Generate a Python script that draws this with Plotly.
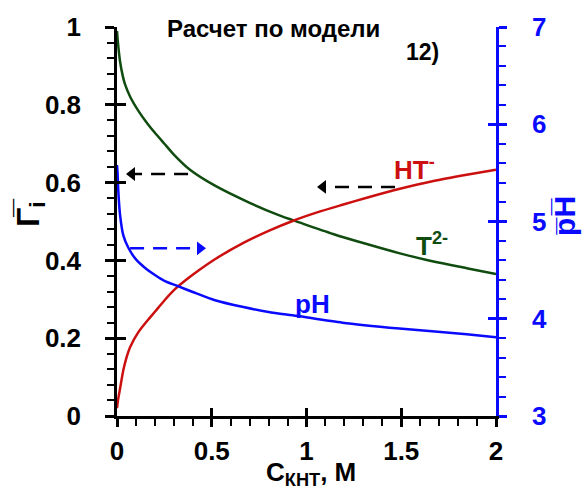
import plotly.graph_objects as go

# ---- data ----
c_T2 = [0.0, 0.005, 0.016, 0.03, 0.042, 0.07, 0.112, 0.16, 0.2, 0.25, 0.3, 0.385, 0.517, 0.7, 0.85,
        0.966, 1.14, 1.318, 1.493, 1.67, 1.845, 2.0]
gamma_T2 = [0.99, 0.96, 0.912, 0.875, 0.853, 0.82, 0.785, 0.752, 0.728, 0.70, 0.672, 0.633, 0.592, 0.548,
            0.517, 0.497, 0.468, 0.442, 0.418, 0.397, 0.38, 0.365]

c_HT = [0.0, 0.005, 0.016, 0.033, 0.05, 0.069, 0.112, 0.16, 0.2, 0.25, 0.306, 0.37, 0.43, 0.517, 0.667,
        0.8, 0.93, 1.06, 1.19, 1.318, 1.493, 1.67, 1.845, 2.0]
gamma_HT = [0.02, 0.04, 0.07, 0.117, 0.15, 0.177, 0.215, 0.245, 0.268, 0.297, 0.326, 0.352, 0.374, 0.403,
            0.445, 0.476, 0.502, 0.524, 0.543, 0.561, 0.584, 0.604, 0.62, 0.633]

c_pH = [0.0, 0.003, 0.007, 0.016, 0.033, 0.06, 0.1, 0.15, 0.2, 0.25, 0.315, 0.4, 0.517, 0.667, 0.8,
        0.948, 1.19, 1.49, 1.845, 2.0]
pH = [5.58, 5.5, 5.31, 5.07, 4.86, 4.73, 4.61, 4.52, 4.45, 4.39, 4.34, 4.275, 4.19, 4.12, 4.07,
      4.03, 3.96, 3.90, 3.84, 3.81]

# arrows: (x_start, x_tip, level)
arrow_left1 = (0.375, 0.079, 0.622)
arrow_left2 = (1.467, 1.087, 0.589)
arrow_right = (0.069, 0.438, 4.724)

x_ticks = [0, 0.5, 1, 1.5, 2]
x_ticklabels = ["0", "0.5", "1", "1.5", "2"]
y_ticks = [0, 0.2, 0.4, 0.6, 0.8, 1]
y_ticklabels = ["0", "0.2", "0.4", "0.6", "0.8", "1"]
y2_ticks = [3, 4, 5, 6, 7]

GREEN = "#104c10"
RED = "#cc1010"
BLUE = "#0a0aff"
FONT = "Liberation Sans"

fig = go.Figure()

for xs, ys, col, ya in [(c_T2, gamma_T2, GREEN, "y"), (c_HT, gamma_HT, RED, "y"), (c_pH, pH, BLUE, "y2")]:
    fig.add_trace(go.Scatter(x=xs, y=ys, mode="lines", line=dict(color=col, width=2.5, shape="spline",
                                                                   smoothing=0.7),
                             showlegend=False, xaxis="x", yaxis=ya))


def arrow(a, color, yaxis, symbol):
    x0, x1, lvl = a
    fig.add_trace(go.Scatter(x=[x0, x1], y=[lvl, lvl], mode="lines",
                             line=dict(color=color, width=2.5, dash="14px,9px"),
                             showlegend=False, xaxis="x", yaxis=yaxis, hoverinfo="skip"))
    fig.add_trace(go.Scatter(x=[x1], y=[lvl], mode="markers",
                             marker=dict(symbol=symbol, size=12, color=color, line=dict(width=0)),
                             showlegend=False, xaxis="x", yaxis=yaxis, hoverinfo="skip"))


arrow(arrow_left1, "black", "y", "triangle-left")
arrow(arrow_left2, "black", "y", "triangle-left")
arrow(arrow_right, BLUE, "y2", "triangle-right")

# invisible traces for the overlay axes (inner half of the crossing ticks)
fig.add_trace(go.Scatter(x=[None], y=[None], xaxis="x2", yaxis="y3", showlegend=False))
fig.add_trace(go.Scatter(x=[None], y=[None], xaxis="x2", yaxis="y4", showlegend=False))

tickfont = dict(family=FONT, size=26, color="black", weight="bold")

fig.update_layout(
    width=584, height=489,
    margin=dict(l=117, r=88, t=24, b=73),
    plot_bgcolor="white", paper_bgcolor="white",
    xaxis=dict(range=[0, 2], tickvals=x_ticks, ticktext=x_ticklabels, ticks="outside", ticklen=8,
               tickwidth=2.5, tickcolor="black", showline=True, linewidth=2.5, linecolor="black",
               showgrid=False, zeroline=False, tickfont=tickfont, ticklabelstandoff=2,
               minor=dict(dtick=0.1, ticks="outside", ticklen=7, tickwidth=2, tickcolor="black", showgrid=False)),
    xaxis2=dict(range=[0, 2], overlaying="x", anchor="y3", tickvals=x_ticks, ticks="inside", ticklen=8,
                tickwidth=2.5, tickcolor="black", showticklabels=False, showline=False, showgrid=False,
                zeroline=False),
    yaxis=dict(range=[0, 1], tickvals=y_ticks, ticktext=y_ticklabels, ticks="outside", ticklen=9,
               tickwidth=2.5, tickcolor="black", showline=True, linewidth=2.5, linecolor="black",
               showgrid=False, zeroline=False, tickfont=tickfont, ticklabelstandoff=19,
               minor=dict(dtick=0.04, ticks="outside", ticklen=7, tickwidth=2, tickcolor="black", showgrid=False)),
    yaxis3=dict(range=[0, 1], overlaying="y", side="left", anchor="x2", tickvals=y_ticks, ticks="inside",
                ticklen=9, tickwidth=2.5, tickcolor="black", showticklabels=False, showline=False,
                showgrid=False, zeroline=False),
    yaxis2=dict(range=[3, 7], overlaying="y", side="right", anchor="x", tickvals=y2_ticks, ticks="outside",
                ticklen=8, tickwidth=2.5, tickcolor=BLUE, showline=True, linewidth=2.5, linecolor=BLUE,
                showgrid=False, zeroline=False,
                tickfont=dict(family=FONT, size=26, color=BLUE, weight="bold"), ticklabelstandoff=20,
                minor=dict(dtick=0.2, ticks="outside", ticklen=7, tickwidth=2, tickcolor=BLUE, showgrid=False)),
    yaxis4=dict(range=[3, 7], overlaying="y", side="right", anchor="x2", tickvals=y2_ticks, ticks="inside",
                ticklen=8, tickwidth=2.5, tickcolor=BLUE, showticklabels=False, showline=False,
                showgrid=False, zeroline=False),
)

# text inside the plot (data coordinates)
labels = [
    ("HT<sup>-</sup>", 1.57, 0.635, 26, RED, "y"),
    ("T<sup>2-</sup>", 1.66, 0.44, 26, GREEN, "y"),
    ("pH", 1.03, 4.15, 26, BLUE, "y2"),
]
for text, x, y, size, color, yref in labels:
    fig.add_annotation(text=text, x=x, y=y, xref="x", yref=yref, showarrow=False,
                       xanchor="center", yanchor="middle",
                       font=dict(family=FONT, size=size, color=color, weight="bold"))

# titles (paper coordinates)
titles = [
    ("Расчет по модели", 0.414, 0.995, 24, "black", 0),
    ("12)", 0.805, 0.935, 23, "black", 0),
    ("C<sub>КНТ</sub>, М", 0.512, -0.148, 26, "black", 0),
    ("Γ̅<sub>i</sub>", -0.23, 0.524, 32, "black", -90),
    ("p̅H̅", 1.18, 0.515, 30, BLUE, -90),
]
for text, x, y, size, color, ang in titles:
    fig.add_annotation(text=text, x=x, y=y, xref="paper", yref="paper", showarrow=False,
                       xanchor="center", yanchor="middle", textangle=ang,
                       font=dict(family=FONT, size=size, color=color, weight="bold"))

fig.write_html("out.html")
